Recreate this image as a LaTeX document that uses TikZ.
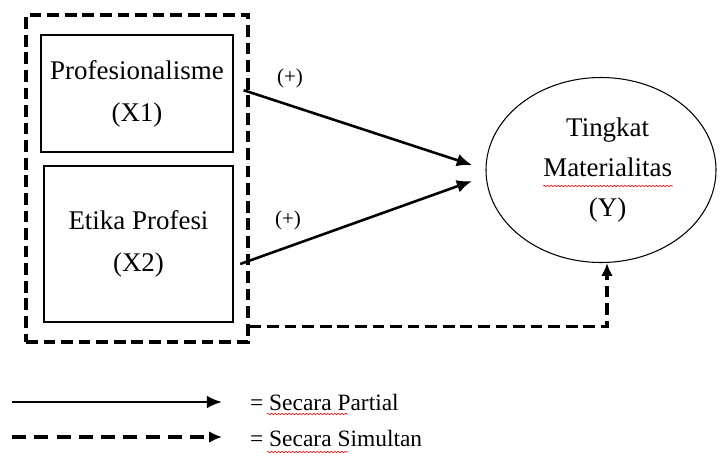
\documentclass[tikz,border=0pt]{standalone}
\usepackage{fontspec}
\setmainfont{Liberation Serif}
\usetikzlibrary{arrows.meta,shapes.geometric,decorations.pathmorphing}

\tikzset{var/.style = {draw, line width=0.9pt, align=center, font=\fontsize{23}{36}\selectfont},
         grp/.style = {draw, line width=2.6pt, dash pattern=on 10pt off 5pt},
         pijl/.style = {line width=2.2pt, -{Latex[length=13pt,width=11pt]}},
         simultan/.style = {line width=2.6pt, dash pattern=on 10pt off 5pt, -{Latex[length=11pt,width=10pt]}},
         tanda/.style = {font=\fontsize{18}{20}\selectfont},
         ket/.style = {anchor=west, font=\fontsize{20}{24}\selectfont},
         salah/.style = {red, line width=0.5pt, decorate,
                         decoration={snake, amplitude=0.6pt, segment length=3pt}}
        }

\begin{document}
\begin{tikzpicture}[x=0.03cm, y=-0.03cm]
  \useasboundingbox (0,0) rectangle (723,463);

  \node[grp, minimum width=6.66cm, minimum height=9.81cm] (grp) at (137,178.5) {};
  \node[var, minimum width=5.76cm, minimum height=3.51cm] (x1) at (137,93.5) {Profesionalisme\\(X1)};
  \node[var, minimum width=5.67cm, minimum height=4.68cm] (x2) at (138.5,244) {Etika Profesi\\(X2)};
  \node[var, ellipse, minimum width=6.9cm, minimum height=5.55cm, font=\fontsize{23}{34}\selectfont]
       (y) at (601,170) {\hspace*{0.4cm}Tingkat\\\hspace*{0.4cm}Materialitas\\\hspace*{0.4cm}(Y)};

  \coordinate (in1) at (472,165);
  \coordinate (in2) at (472,181);
  \draw[pijl] ([xshift=0.3cm,yshift=0.1cm]x1.east) -- (in1);
  \draw[pijl] ([xshift=0.2cm,yshift=-0.6cm]x2.east) -- (in2);
  \node[tanda] (p1) at (290,78) {(+)};
  \node[tanda] (p2) at (288,220) {(+)};
  \draw[simultan] (grp.south east) ++(0,-17) -| ([xshift=0.18cm]y.south);

  \coordinate (l1a) at (12,402);
  \coordinate (l1b) at (222,402);
  \coordinate (l2a) at (12,437);
  \coordinate (l2b) at (222,437);
  \draw[pijl] (l1a) -- (l1b);
  \draw[simultan, dash pattern=on 12pt off 7pt] (l2a) -- (l2b);
  \node[ket] (partial) at (246,402) {= Secara Partial};
  \node[ket] (simultan) at (246,438) {= Secara Simultan};

  \draw[salah] (543,186) -- (673,186);
  \draw[salah] (267,414) -- (348,414);
  \draw[salah] (267,452) -- (348,452);
\end{tikzpicture}
\end{document}
